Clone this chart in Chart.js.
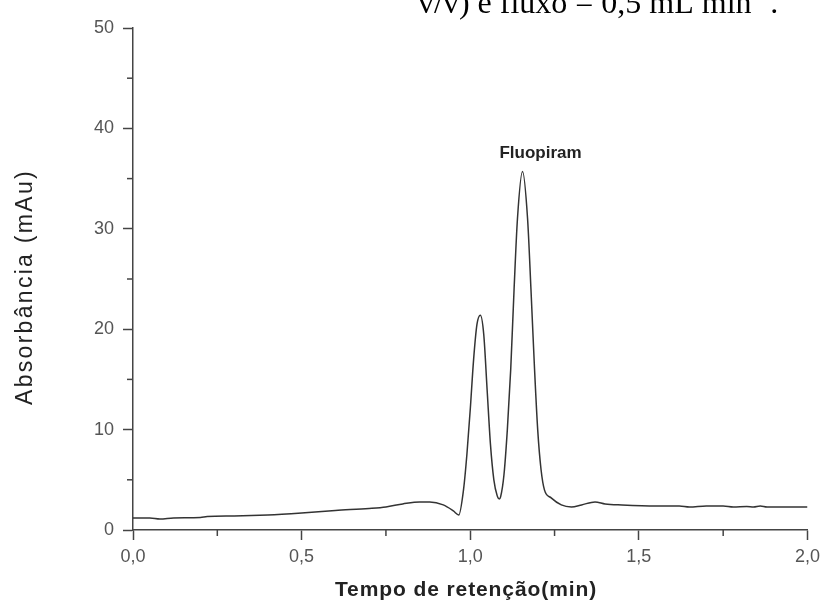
<!DOCTYPE html>
<html>
<head>
<meta charset="utf-8">
<script src="https://cdn.jsdelivr.net/npm/chart.js@4"></script>
<style>
  html, body { margin: 0; padding: 0; background: #fff; }
  #wrap { width: 826px; height: 610px; position: relative; }
</style>
</head>
<body>
<div id="wrap"><canvas id="myChart" width="826" height="610"></canvas></div>
<script>
// retention time (min) and absorbance (mAu)
const tempo = [0.00, 0.05, 0.08, 0.12, 0.20, 0.22, 0.30, 0.40, 0.50, 0.60, 0.70, 0.75, 0.80, 0.85, 0.88, 0.92, 0.95, 0.966,
  0.98, 0.99, 1.00, 1.01, 1.02, 1.03, 1.04, 1.05, 1.06, 1.07, 1.08, 1.086, 1.09, 1.10, 1.11, 1.12, 1.13, 1.14, 1.155,
  1.17, 1.18, 1.19, 1.20, 1.21, 1.22, 1.24, 1.27, 1.30, 1.33, 1.37, 1.40, 1.45, 1.55, 1.62, 1.65, 1.70, 1.75, 1.78,
  1.82, 1.84, 1.86, 1.88, 2.00];
const absorbancia = [1.2, 1.2, 1.1, 1.2, 1.25, 1.35, 1.4, 1.5, 1.7, 1.95, 2.15, 2.3, 2.6, 2.8, 2.8, 2.5, 1.9, 1.5,
  4.0, 7.5, 12.0, 17.0, 20.5, 21.4, 19.5, 14.0, 8.5, 5.0, 3.4, 3.1, 3.3, 5.5, 10.0, 16.0, 24.0, 31.0, 35.7,
  31.0, 24.0, 16.5, 10.0, 6.0, 4.0, 3.2, 2.5, 2.3, 2.5, 2.8, 2.6, 2.5, 2.4, 2.4, 2.3, 2.4, 2.4, 2.3,
  2.35, 2.3, 2.4, 2.3, 2.3];

const xMinor = [0.25, 0.75, 1.25, 1.75];
const yMinor = [5, 15, 25, 35, 45];
const xTitle = 'Tempo de retenção(min)';
const yTitle = 'Absorbância (mAu)';
const peakLabel = 'Fluopiram';
const peakTime = 1.155;
const peakAbs = 35.7;

const points = tempo.map((t, i) => ({ x: t, y: absorbancia[i] }));
const tickFont = { family: 'Liberation Sans', size: 18 };
const axisColor = '#444';

const extras = {
  id: 'extras',
  afterDraw(chart) {
    const ctx = chart.ctx;
    const xs = chart.scales.x, ys = chart.scales.y;
    ctx.save();
    // minor ticks
    ctx.strokeStyle = axisColor;
    ctx.lineWidth = 1.5;
    xMinor.forEach(v => {
      const px = xs.getPixelForValue(v);
      ctx.beginPath(); ctx.moveTo(px, xs.top); ctx.lineTo(px, xs.top + 6); ctx.stroke();
    });
    yMinor.forEach(v => {
      const py = ys.getPixelForValue(v);
      ctx.beginPath(); ctx.moveTo(ys.right, py); ctx.lineTo(ys.right - 6, py); ctx.stroke();
    });
    // axis titles (letter-spaced like the original export)
    ctx.fillStyle = '#222';
    ctx.textAlign = 'center';
    ctx.textBaseline = 'middle';
    ctx.font = 'bold 21px "Liberation Sans"';
    ctx.letterSpacing = '0.9px';
    ctx.fillText(xTitle, 466, 590);
    ctx.save();
    ctx.translate(26, 287);
    ctx.rotate(-Math.PI / 2);
    ctx.font = '23px "Liberation Sans"';
    ctx.letterSpacing = '2.3px';
    ctx.fillText(yTitle, 0, 0);
    ctx.restore();
    ctx.letterSpacing = '0px';
    // peak label
    ctx.font = 'bold 17px "Liberation Sans"';
    ctx.textBaseline = 'alphabetic';
    ctx.fillText(peakLabel, xs.getPixelForValue(peakTime) + 18, ys.getPixelForValue(peakAbs) - 14);
    // cut-off caption line above the figure
    ctx.fillStyle = '#000';
    ctx.textAlign = 'left';
    ctx.font = '32px "Liberation Serif"';
    let cx = 418;
    const main = 'v/v) e fluxo = 0,5 mL min';
    ctx.fillText(main, cx, 13);
    cx += ctx.measureText(main).width;
    ctx.font = '20px "Liberation Serif"';
    ctx.fillText('-1', cx + 1, 0);
    cx += ctx.measureText('-1').width + 2;
    ctx.font = '32px "Liberation Serif"';
    ctx.fillText('.', cx, 13);
    ctx.restore();
  }
};

let chart = new Chart(document.getElementById('myChart').getContext('2d'), {
  type: 'line',
  data: {
    datasets: [{
      data: points,
      borderColor: '#333',
      borderWidth: 1.5,
      pointRadius: 0,
      fill: false,
      cubicInterpolationMode: 'monotone'
    }]
  },
  options: {
    responsive: false,
    animation: false,
    layout: { padding: { top: 28, right: 16, left: 0, bottom: 0 } },
    plugins: { legend: { display: false }, tooltip: { enabled: false } },
    scales: {
      x: {
        type: 'linear',
        min: 0, max: 2,
        afterFit: s => { s.height = 80; },
        ticks: {
          stepSize: 0.5,
          color: '#555',
          font: tickFont,
          padding: 6,
          maxRotation: 0,
          callback: v => v.toFixed(1).replace('.', ',')
        },
        grid: { drawOnChartArea: false, drawTicks: true, tickLength: 10, tickColor: axisColor, tickWidth: 1.5 },
        border: { display: true, color: axisColor, width: 1.5 }
      },
      y: {
        min: 0, max: 50,
        afterFit: s => { s.width = 133; },
        ticks: { stepSize: 10, color: '#555', font: tickFont, padding: 9 },
        grid: { drawOnChartArea: false, drawTicks: true, tickLength: 10, tickColor: axisColor, tickWidth: 1.5 },
        border: { display: true, color: axisColor, width: 1.5 }
      }
    }
  },
  plugins: [extras]
});
</script>
</body>
</html>
